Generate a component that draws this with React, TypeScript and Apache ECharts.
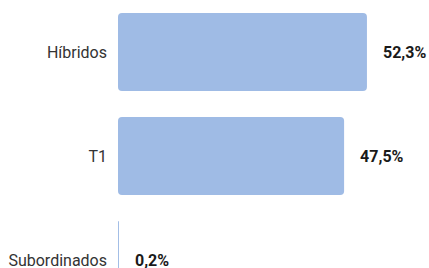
import React, { useEffect, useRef } from "react";
import * as echarts from "echarts";

const categories = ["Híbridos", "T1", "Subordinados"];
const values = [52.3, 47.5, 0.2];

export default function App() {
  const ref = useRef<HTMLDivElement>(null);
  useEffect(() => {
    document.body.style.margin = "0";
    const chart = echarts.init(ref.current!, undefined, { renderer: "svg" });
    chart.setOption({
      animation: false,
      grid: { left: 118, top: 0, width: 285.6, height: 312, outerBoundsMode: "none", containLabel: false },
      xAxis: {
        type: "value",
        min: 0,
        max: 60,
        show: false,
      },
      yAxis: {
        type: "category",
        inverse: true,
        data: categories,
        axisLine: { show: false },
        axisTick: { show: false },
        splitLine: { show: false },
        axisLabel: {
          margin: 11,
          fontFamily: "Roboto",
          fontSize: 16,
          color: "#333333",
        },
      },
      series: [
        {
          type: "bar",
          data: values,
          barWidth: 78,
          itemStyle: { color: "#9fbbe5", borderRadius: 4 },
          label: {
            show: true,
            position: "right",
            distance: 16,
            fontFamily: "Roboto",
            fontSize: 16,
            fontWeight: "bold",
            color: "#1a1a1a",
            formatter: (p: any) => p.value.toFixed(1).replace(".", ",") + "%",
          },
        },
      ],
    });
    return () => chart.dispose();
  }, []);
  return <div ref={ref} style={{ width: 429, height: 268 }} />;
}
